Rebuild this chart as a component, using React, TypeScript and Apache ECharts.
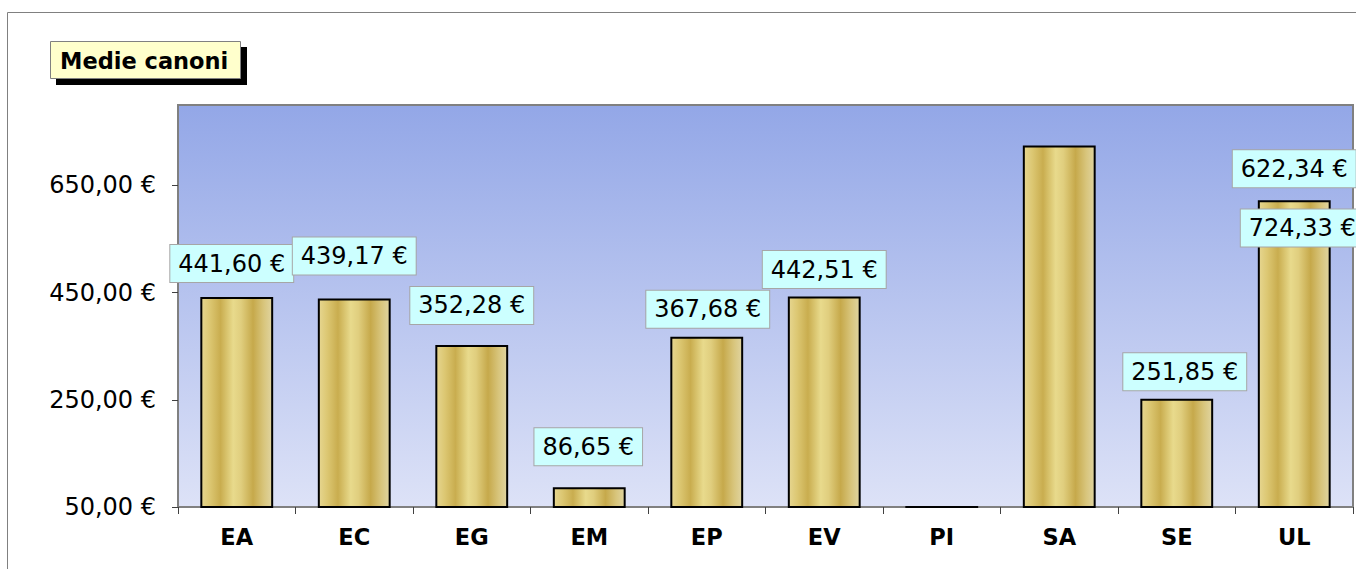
import React, { useEffect, useRef } from 'react';
import * as echarts from 'echarts';

const categories = ['EA', 'EC', 'EG', 'EM', 'EP', 'EV', 'PI', 'SA', 'SE', 'UL'];
const values = [441.6, 439.17, 352.28, 86.65, 367.68, 442.51, 0, 724.33, 251.85, 622.34];
const yTicks = [50, 250, 450, 650];
const yMin = 50;
const yMax = 800;
const title = 'Medie canoni';
// label displacement (px) relative to the default "top" position, as placed in the source
const labelOffsets: (number[] | null)[] = [
  [-5, -15],
  [0, -24],
  [0, -21],
  [-1, -22],
  [1, -9],
  [0, -8.5],
  null,
  [243, 101],
  [8, -8.5],
  [0, -13],
];

const fmt = (v: number) => v.toFixed(2).replace('.', ',') + ' €';
const FONT = 'DejaVu Sans, Verdana, sans-serif';

export default function App() {
  const ref = useRef<HTMLDivElement>(null);
  useEffect(() => {
    if (!ref.current) return;
    const chart = echarts.init(ref.current, null, { renderer: 'svg' });
    const barGradient = new echarts.graphic.LinearGradient(0, 0, 1, 0, [
      { offset: 0, color: '#e6d690' },
      { offset: 0.12, color: '#dcc772' },
      { offset: 0.27, color: '#c9ad4f' },
      { offset: 0.45, color: '#e8da8c' },
      { offset: 0.56, color: '#e0ce7e' },
      { offset: 0.73, color: '#c6a94b' },
      { offset: 0.88, color: '#d8c57c' },
      { offset: 1, color: '#e0d4a0' },
    ]);
    const bgGradient = new echarts.graphic.LinearGradient(0, 0, 0, 1, [
      { offset: 0, color: '#93a7e7' },
      { offset: 1, color: '#dde2f7' },
    ]);
    chart.setOption({
      animation: false,
      grid: {
        left: 178,
        top: 105,
        right: 3,
        bottom: 62,
        show: true,
        backgroundColor: bgGradient,
        borderColor: '#808080',
        borderWidth: 2,
        containLabel: false,
      },
      graphic: [
        {
          type: 'rect',
          z: -10,
          shape: { x: 7.5, y: 12.5, width: 1400, height: 600 },
          style: { fill: 'none', stroke: '#808080', lineWidth: 1 },
        },
        {
          type: 'rect',
          z: 10,
          shape: { x: 56, y: 47, width: 191, height: 38 },
          style: { fill: '#000000' },
        },
        {
          type: 'rect',
          z: 11,
          shape: { x: 50.5, y: 41.5, width: 190, height: 37 },
          style: { fill: '#ffffcc', stroke: '#808080', lineWidth: 1 },
        },
        {
          type: 'text',
          z: 12,
          x: 60,
          y: 61,
          style: {
            text: title,
            fill: '#000',
            font: `bold 22.5px ${FONT}`,
            verticalAlign: 'middle',
            align: 'left',
          },
        },
      ],
      xAxis: {
        type: 'category',
        data: categories,
        boundaryGap: true,
        axisLine: { show: false },
        axisTick: { show: true, length: 7, lineStyle: { color: '#404040', width: 1 } },
        axisLabel: {
          margin: 18,
          color: '#000',
          fontFamily: FONT,
          fontWeight: 'bold',
          fontSize: 22.5,
        },
        splitLine: { show: false },
      },
      yAxis: {
        type: 'value',
        min: yMin,
        max: yMax,
        axisLine: { show: false },
        axisTick: {
          show: true,
          length: 6,
          customValues: yTicks,
          lineStyle: { color: '#404040', width: 1 },
        },
        axisLabel: {
          customValues: yTicks,
          margin: 22,
          color: '#000',
          fontFamily: FONT,
          fontSize: 24,
          formatter: (v: number) => fmt(v),
        },
        splitLine: { show: false },
      },
      series: [
        {
          type: 'bar',
          barWidth: '62%',
          z: 5,
          itemStyle: { color: barGradient, borderColor: '#000', borderWidth: 2 },
          label: {
            show: true,
            position: 'top',
            distance: 0,
            color: '#000',
            fontFamily: FONT,
            fontSize: 24,
            lineHeight: 23,
            backgroundColor: '#ccffff',
            borderColor: '#a6a6a6',
            borderWidth: 1,
            padding: [7, 8, 7, 8],
          },
          data: values.map((v, i) => {
            const off = labelOffsets[i];
            return {
              // values below the axis minimum are drawn flat on the axis, as in the source
              value: Math.max(v, yMin + 2),
              label: off
                ? { show: true, offset: off, formatter: fmt(v) }
                : { show: false },
            };
          }),
        },
      ],
    });
    return () => chart.dispose();
  }, []);
  return (
    <div
      ref={ref}
      style={{ position: 'absolute', left: 0, top: 0, width: 1356, height: 569 }}
    />
  );
}
